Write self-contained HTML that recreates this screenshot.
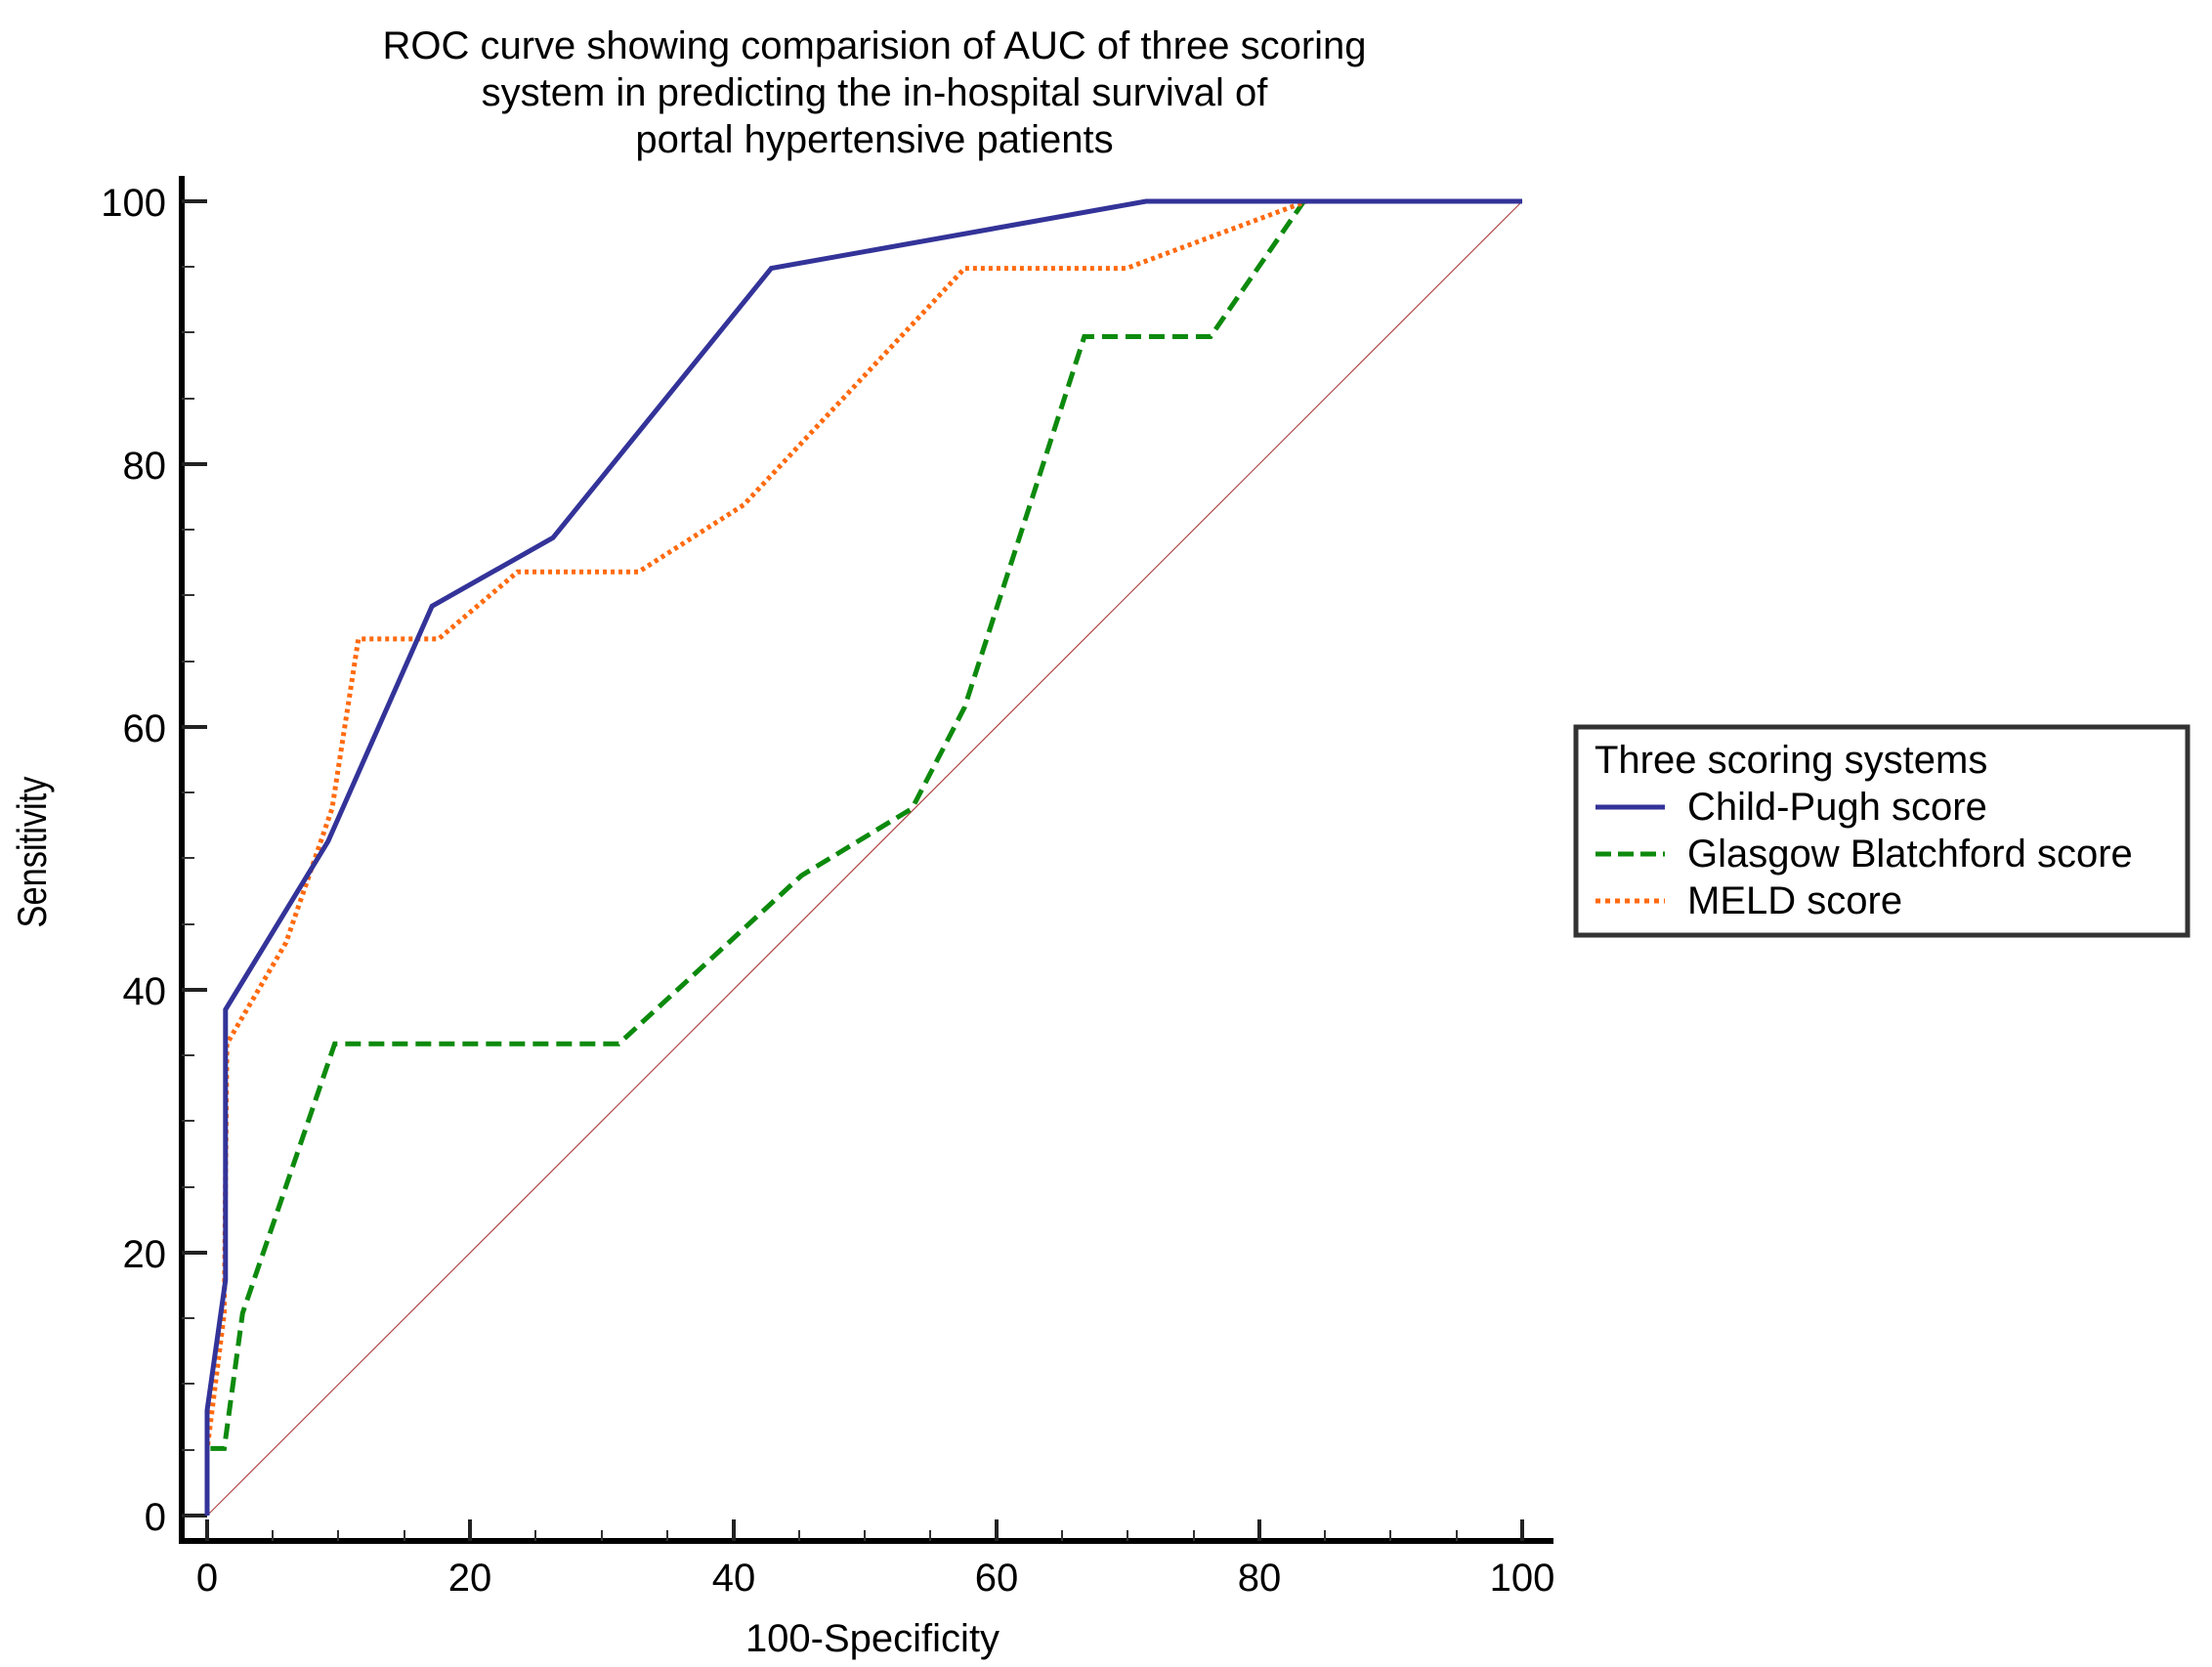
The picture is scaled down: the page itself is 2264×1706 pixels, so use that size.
<!DOCTYPE html>
<html><head><meta charset="utf-8"><style>body{margin:0;background:#fff}svg{display:block}text{font-family:"Liberation Sans",sans-serif;fill:#000}</style></head><body>
<svg width="2264" height="1706" viewBox="0 0 2264 1706" xmlns="http://www.w3.org/2000/svg">
<g font-size="40" text-anchor="middle">
<text x="895" y="60">ROC curve showing comparision of AUC of three scoring</text>
<text x="895" y="108">system in predicting the in-hospital survival of</text>
<text x="895" y="156">portal hypertensive patients</text>
</g>
<line x1="186" y1="180" x2="186" y2="1580" stroke="#000" stroke-width="6"/>
<line x1="183" y1="1577" x2="1590" y2="1577" stroke="#000" stroke-width="6"/>
<g stroke="#222" stroke-width="4">
<line x1="186" y1="206" x2="212" y2="206"/><line x1="186" y1="475" x2="212" y2="475"/><line x1="186" y1="744" x2="212" y2="744"/><line x1="186" y1="1013" x2="212" y2="1013"/><line x1="186" y1="1282" x2="212" y2="1282"/><line x1="186" y1="1551" x2="212" y2="1551"/>
<line x1="212" y1="1577" x2="212" y2="1555"/><line x1="481" y1="1577" x2="481" y2="1555"/><line x1="751" y1="1577" x2="751" y2="1555"/><line x1="1020" y1="1577" x2="1020" y2="1555"/><line x1="1289" y1="1577" x2="1289" y2="1555"/><line x1="1558" y1="1577" x2="1558" y2="1555"/>
</g>
<g stroke="#333" stroke-width="2">
<line x1="186" y1="273" x2="199" y2="273"/><line x1="186" y1="340" x2="199" y2="340"/><line x1="186" y1="408" x2="199" y2="408"/>
<line x1="186" y1="542" x2="199" y2="542"/><line x1="186" y1="609" x2="199" y2="609"/><line x1="186" y1="677" x2="199" y2="677"/>
<line x1="186" y1="811" x2="199" y2="811"/><line x1="186" y1="878" x2="199" y2="878"/><line x1="186" y1="946" x2="199" y2="946"/>
<line x1="186" y1="1080" x2="199" y2="1080"/><line x1="186" y1="1147" x2="199" y2="1147"/><line x1="186" y1="1215" x2="199" y2="1215"/>
<line x1="186" y1="1349" x2="199" y2="1349"/><line x1="186" y1="1416" x2="199" y2="1416"/><line x1="186" y1="1484" x2="199" y2="1484"/>
<line x1="279" y1="1577" x2="279" y2="1566"/><line x1="346" y1="1577" x2="346" y2="1566"/><line x1="414" y1="1577" x2="414" y2="1566"/>
<line x1="548" y1="1577" x2="548" y2="1566"/><line x1="616" y1="1577" x2="616" y2="1566"/><line x1="683" y1="1577" x2="683" y2="1566"/>
<line x1="818" y1="1577" x2="818" y2="1566"/><line x1="885" y1="1577" x2="885" y2="1566"/><line x1="952" y1="1577" x2="952" y2="1566"/>
<line x1="1087" y1="1577" x2="1087" y2="1566"/><line x1="1154" y1="1577" x2="1154" y2="1566"/><line x1="1222" y1="1577" x2="1222" y2="1566"/>
<line x1="1356" y1="1577" x2="1356" y2="1566"/><line x1="1423" y1="1577" x2="1423" y2="1566"/><line x1="1491" y1="1577" x2="1491" y2="1566"/>
</g>
<g font-size="40" text-anchor="end">
<text x="170" y="221">100</text><text x="170" y="490">80</text><text x="170" y="759">60</text><text x="170" y="1028">40</text><text x="170" y="1297">20</text><text x="170" y="1566">0</text>
</g>
<g font-size="40" text-anchor="middle">
<text x="212" y="1628">0</text><text x="481" y="1628">20</text><text x="751" y="1628">40</text><text x="1020" y="1628">60</text><text x="1289" y="1628">80</text><text x="1558" y="1628">100</text>
<text x="893" y="1690">100-Specificity</text>
</g>
<text x="0" y="0" font-size="42" text-anchor="middle" transform="translate(47,872) rotate(-90) scale(0.82,1)">Sensitivity</text>
<line x1="212" y1="1551" x2="1558" y2="206" stroke="#b04848" stroke-width="1.2"/>
<polyline fill="none" stroke="#0d8a0d" stroke-width="5" stroke-dasharray="16,8" points="212,1551 212,1482.4 229.5,1482.4 248.3,1343.9 342.6,1068.2 633.3,1068.2 820.4,896 933.5,827.4 987.3,723.8 1109.8,344.5 1239,344.5 1334.6,206 1558,206"/>
<polyline fill="none" stroke="#ff6a0f" stroke-width="5" stroke-dasharray="4,4" points="212,1551 212,1483.8 229.5,1343.9 232.2,1068.2 292.8,964.6 339.9,827.4 366.8,653.9 448.9,653.9 529.7,585.3 653.5,585.3 761.2,516.7 987.3,274.6 1152.9,274.6 1337.3,206 1558,206"/>
<polyline fill="none" stroke="#333399" stroke-width="5" points="212,1551 212,1443.4 230.8,1310.2 230.8,1033.2 335.8,861 442.2,620.3 566,550.3 789.4,274.6 1173.1,206 1558,206"/>
<rect x="1613" y="744" width="626" height="213" fill="#fff" stroke="#333" stroke-width="5"/>
<g font-size="40">
<text x="1632" y="791">Three scoring systems</text>
<text x="1727" y="839">Child-Pugh score</text>
<text x="1727" y="887">Glasgow Blatchford score</text>
<text x="1727" y="935">MELD score</text>
</g>
<line x1="1633" y1="826" x2="1704" y2="826" stroke="#333399" stroke-width="5"/>
<line x1="1633" y1="874" x2="1704" y2="874" stroke="#0d8a0d" stroke-width="5" stroke-dasharray="16,7"/>
<line x1="1633" y1="922" x2="1704" y2="922" stroke="#ff6a0f" stroke-width="5" stroke-dasharray="5,5"/>
</svg>
</body></html>
